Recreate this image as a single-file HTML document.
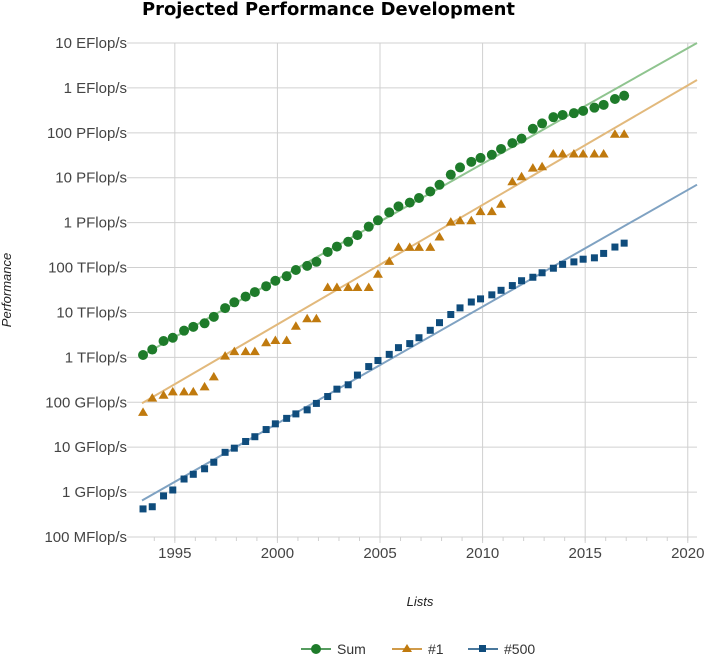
<!DOCTYPE html>
<html><head><meta charset="utf-8"><style>
body{margin:0;background:#fff;}
svg{display:block;font-family:"Liberation Sans",sans-serif;}
</style></head><body>
<svg id="chart" width="707" height="654">
<text x="142" y="15" font-size="18" font-weight="bold" fill="#000" style="font-family:'DejaVu Sans',sans-serif" textLength="373" lengthAdjust="spacingAndGlyphs">Projected Performance Development</text>
<text transform="translate(11,290) rotate(-90)" text-anchor="middle" font-size="13" font-style="italic" fill="#222">Performance</text>
<text x="420" y="606" text-anchor="middle" font-size="13" font-style="italic" fill="#222">Lists</text>
<g id="grid"></g><g id="trend"></g><g id="marks"></g><g id="axes"></g>
<g>
<g><line x1="301" y1="649" x2="331" y2="649" stroke="#1e7b2a" stroke-width="1.5"/><circle cx="316" cy="649" r="5" fill="#1e7b2a"/><text x="337" y="654" font-size="14" fill="#333">Sum</text></g>
<g><line x1="392" y1="649" x2="422" y2="649" stroke="#c07a0e" stroke-width="1.5"/><polygon points="407,644 412,652 402,652" fill="#c07a0e"/><text x="428" y="654" font-size="14" fill="#333">#1</text></g>
<g><line x1="468" y1="649" x2="498" y2="649" stroke="#0f4c7c" stroke-width="1.5"/><rect x="479" y="645" width="7" height="7" fill="#0f4c7c"/><text x="504" y="654" font-size="14" fill="#333">#500</text></g>
</g>
</svg>
<script>
const yTickLabels=["100 MFlop/s","1 GFlop/s","10 GFlop/s","100 GFlop/s","1 TFlop/s","10 TFlop/s","100 TFlop/s","1 PFlop/s","10 PFlop/s","100 PFlop/s","1 EFlop/s","10 EFlop/s"];
const xTickYears=[1995,2000,2005,2010,2015,2020];
const sumValues=[1128,1493,2317,2732,3928,4784,5736,7996,12508,16844,22550,28408,38397,50844,64243,88090,108800,134400,222300,293000,374700,528000,813000,1127000,1690000,2300000,2790000,3540000,4950000,6970000,11700000,16950000,22600000,27600000,32400000,43700000,58900000,74200000,123000000,162000000,223000000,250000000,274000000,309000000,363000000,420000000,566000000,672000000];
const no1Values=[59.7,124,143.4,170.4,170.4,170.4,220.4,368.2,1068,1338,1338,1338,2121,2379,2379,4938,7226,7226,35860,35860,35860,35860,35860,70720,136800,280600,280600,280600,280600,478200,1026000,1105000,1105000,1759000,1759000,2566000,8162000,10510000,16320000,17590000,33860000,33860000,33860000,33860000,33860000,33860000,93010000,93010000];
const no500Values=[0.422,0.472,0.822,1.114,1.955,2.489,3.306,4.62,7.68,9.51,13.39,17.1,24.7,33.1,43.8,55.1,67.8,94.3,134.3,195.8,245.1,403.4,624,850.6,1166,1646,2026,2736,4005,5929,9000,12640,17090,20050,24670,31120,39700,50900,60800,76500,96600,117800,133700,153400,164600,206300,286100,349300];
const trendYears=[1993.4,2020.45];
const sumTrend=[1100,1e10];
const no1Trend=[95,1.5e9];
const no500Trend=[0.65,7e6];
const NS="http://www.w3.org/2000/svg";
const X0=142,X1=697,Y0=537,Y1=43,yr0=1993.4,yr1=2020.45;
function xs(y){return X0+(y-yr0)/(yr1-yr0)*(X1-X0);}
function ys(v){return Y0-(Math.log10(v)+1)/11*(Y0-Y1);}
function mk(p,tag,a){const e=document.createElementNS(NS,tag);for(const k in a)e.setAttribute(k,a[k]);p.appendChild(e);return e;}
const grid=document.getElementById('grid'),axes=document.getElementById('axes'),trend=document.getElementById('trend'),marks=document.getElementById('marks');
yTickLabels.forEach((l,i)=>{const y=ys(Math.pow(10,i-1));
const g=mk(grid,'line',{x1:X0-15,x2:X1,y1:y,y2:y,stroke:'#d0d0d0','stroke-width':1});


const t=mk(axes,'text',{x:127,y:y+5,'text-anchor':'end','font-size':15,fill:'#444'});t.textContent=l;

});
xTickYears.forEach(yr=>{const x=xs(yr);
const g=mk(grid,'line',{x1:x,x2:x,y1:Y1,y2:Y0+6,stroke:'#d0d0d0','stroke-width':1});


const t=mk(axes,'text',{x:x,y:558,'text-anchor':'middle','font-size':15,fill:'#444'});t.textContent=yr;

});
for(let yr=1994;yr<=2020;yr++){const m=mk(grid,'line',{x1:xs(yr),x2:xs(yr),y1:Y0,y2:Y0+4,stroke:'#d0d0d0'});

}
[[sumTrend,'#8fc48f','sum-trend-line'],[no1Trend,'#e2b97c','no1-trend-line'],[no500Trend,'#7fa2c2','no500-trend-line']].forEach(([tv,c,n])=>{
const l=mk(trend,'line',{x1:xs(trendYears[0]),y1:ys(tv[0]),x2:xs(trendYears[1]),y2:ys(tv[1]),stroke:c,'stroke-width':2});

});
function yearOf(i){return 1993+Math.floor(i/2)+(i%2?0.9:0.45);}
sumValues.forEach((v,i)=>{const c=mk(marks,'circle',{cx:xs(yearOf(i)),cy:ys(v),r:5,fill:'#1e7b2a'});

});
no1Values.forEach((v,i)=>{const x=xs(yearOf(i)),y=ys(v);const p=mk(marks,'polygon',{points:`${x},${y-5} ${x+5},${y+3.5} ${x-5},${y+3.5}`,fill:'#c07a0e'});

});
no500Values.forEach((v,i)=>{const x=xs(yearOf(i)),y=ys(v);const r=mk(marks,'rect',{x:x-3.5,y:y-3.5,width:7,height:7,fill:'#0f4c7c'});

});
</script>
</body></html>
